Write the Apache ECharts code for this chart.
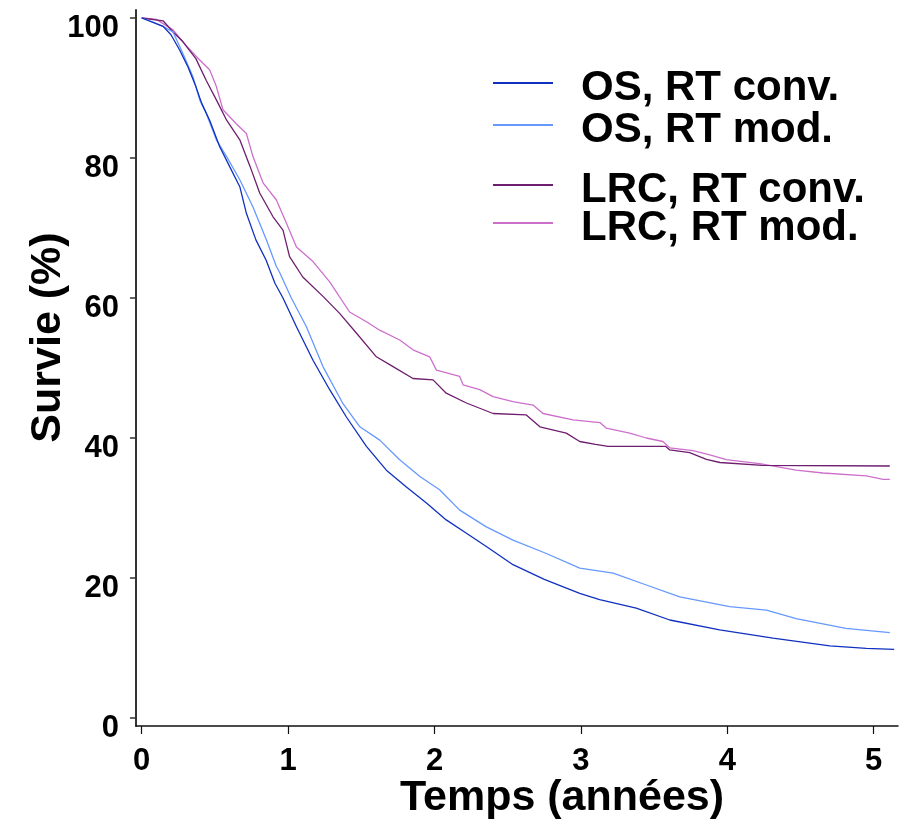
<!DOCTYPE html>
<html>
<head>
<meta charset="utf-8">
<script src="https://cdn.jsdelivr.net/npm/echarts@6/dist/echarts.min.js"></script>
<style>html,body{margin:0;padding:0;background:#fff}#c{width:903px;height:819px}</style>
</head>
<body>
<div id="c"></div>
<script>
// Time (years) and survival (%)
const osConvT = [0, 0.146, 0.2, 0.26, 0.316, 0.37, 0.41, 0.464, 0.533, 0.6, 0.67, 0.715, 0.78, 0.85, 0.91, 0.965, 1.057, 1.17, 1.284, 1.398, 1.535, 1.671, 1.808, 1.945, 2.08, 2.218, 2.354, 2.536, 2.75, 2.992, 3.128, 3.378, 3.607, 3.948, 4.312, 4.7, 4.95, 5.14];
const osConvS = [100, 98.8, 97.6, 95.4, 93, 90.2, 87.8, 85.4, 81.6, 78.8, 75.9, 72.1, 68.3, 65.4, 62.1, 60, 55.9, 51.1, 46.9, 43, 38.8, 35.4, 33, 30.7, 28.3, 26.4, 24.5, 21.9, 19.8, 17.8, 16.9, 15.7, 14, 12.6, 11.4, 10.3, 9.96, 9.8];

const osModT = [0, 0.055, 0.146, 0.214, 0.282, 0.35, 0.396, 0.44, 0.51, 0.58, 0.67, 0.76, 0.852, 0.92, 0.943, 1.022, 1.125, 1.238, 1.375, 1.49, 1.626, 1.762, 1.9, 2.035, 2.172, 2.354, 2.536, 2.764, 2.992, 3.22, 3.447, 3.675, 4.016, 4.267, 4.47, 4.81, 5.11];
const osModS = [100, 99.6, 98.8, 98, 94.9, 91.6, 88.3, 86.4, 82.6, 80.2, 76.9, 73, 68.3, 64.5, 63.6, 60, 55.9, 50.2, 44.9, 41.6, 39.7, 36.9, 34.5, 32.6, 29.7, 27.3, 25.4, 23.5, 21.4, 20.7, 19, 17.3, 15.9, 15.4, 14.2, 12.8, 12.2];

const lrcConvT = [0, 0.146, 0.214, 0.282, 0.37, 0.44, 0.51, 0.58, 0.67, 0.74, 0.806, 0.897, 0.965, 1.01, 1.1, 1.24, 1.352, 1.466, 1.603, 1.717, 1.853, 1.99, 2.08, 2.218, 2.4, 2.627, 2.72, 2.9, 2.992, 3.1, 3.186, 3.58, 3.607, 3.743, 3.857, 3.95, 4.24, 5.11];
const lrcConvS = [100, 99.6, 98, 96.6, 94.2, 91.1, 88.3, 85.4, 82.6, 78.8, 75, 71.6, 69.7, 65.9, 63, 60.2, 57.8, 55, 51.6, 50.2, 48.5, 48.3, 46.4, 45, 43.5, 43.3, 41.6, 40.7, 39.5, 39.1, 38.8, 38.8, 38.3, 37.9, 36.95, 36.5, 36.1, 36];

const lrcModT = [0, 0.1, 0.214, 0.305, 0.396, 0.464, 0.51, 0.555, 0.646, 0.715, 0.76, 0.83, 0.92, 0.988, 1.057, 1.17, 1.284, 1.42, 1.535, 1.626, 1.762, 1.853, 1.967, 2.013, 2.172, 2.195, 2.309, 2.4, 2.536, 2.673, 2.741, 2.946, 3.13, 3.174, 3.333, 3.447, 3.56, 3.607, 3.766, 3.88, 3.994, 4.232, 4.47, 4.654, 4.95, 5.064, 5.11];
const lrcModS = [100, 99.8, 98.3, 96, 94, 92.6, 90.2, 86.9, 84.9, 83.5, 80.2, 76.4, 74, 70.7, 67.3, 65.2, 62.3, 58, 56.6, 55.4, 54, 52.6, 51.6, 49.7, 48.8, 47.6, 46.9, 45.9, 45.2, 44.7, 43.5, 42.6, 42.2, 41.4, 40.7, 40, 39.5, 38.6, 38.2, 37.6, 36.9, 36.3, 35.4, 35, 34.6, 34.1, 34.1];

const seriesNames = ['OS, RT conv.', 'OS, RT mod.', 'LRC, RT conv.', 'LRC, RT mod.'];
const xTicks = [0, 1, 2, 3, 4, 5];
const yTicks = [0, 20, 40, 60, 80, 100];

const colors = ['#1030C0', '#6699FF', '#6E1E6E', '#CC70CC'];
const font = 'Liberation Sans, Arial, Helvetica, sans-serif';

function pairs(t, s) { return t.map((v, i) => [v, s[i]]); }
const datasets = [pairs(osConvT, osConvS), pairs(osModT, osModS), pairs(lrcConvT, lrcConvS), pairs(lrcModT, lrcModS)];

const chart = echarts.init(document.getElementById('c'));
const legendText = {
  fontFamily: font, fontWeight: 'bold', fontSize: 42, color: '#000',
  rich: {
    s: { width: 23, lineHeight: 52, fontSize: 42, fontFamily: font },
    t: { fontFamily: font, fontWeight: 'bold', fontSize: 42, lineHeight: 42, color: '#000', verticalAlign: 'bottom' }
  }
};
const legendFmt = name => '{s| }{t|' + name + '}';
chart.setOption({
  animation: false,
  backgroundColor: '#fff',
  grid: { left: 136, right: 5, top: 10, bottom: 93, containLabel: false, outerBoundsMode: 'none' },
  legend: [
    { data: seriesNames.slice(0, 2), orient: 'vertical', left: 492, top: 62, padding: 0, itemGap: -5, itemWidth: 60, itemHeight: 14, textStyle: legendText, formatter: legendFmt, itemStyle: { opacity: 0 } },
    { data: seriesNames.slice(2, 4), orient: 'vertical', left: 492, top: 164, padding: 0, itemGap: -9, itemWidth: 60, itemHeight: 14, textStyle: legendText, formatter: legendFmt, itemStyle: { opacity: 0 } }
  ],
  xAxis: {
    type: 'value', min: -0.039, max: 5.166,
    name: 'Temps (années)', nameLocation: 'middle', nameGap: 51, nameMoveOverlap: false,
    nameTextStyle: { fontFamily: font, fontWeight: 'bold', fontSize: 43, color: '#000', padding: [0, 0, 0, 90] },
    axisLine: { show: true, onZero: false, lineStyle: { color: '#111', width: 1.5 } },
    axisTick: { show: true, customValues: xTicks, length: 8, lineStyle: { color: '#111', width: 1.2 } },
    axisLabel: { customValues: xTicks, margin: 20, fontFamily: font, fontWeight: 'bold', fontSize: 31, color: '#000' },
    splitLine: { show: false }
  },
  yAxis: {
    type: 'value', min: -1.143, max: 101.143,
    name: 'Survie (%)', nameLocation: 'middle', nameGap: 66, nameMoveOverlap: false,
    nameTextStyle: { fontFamily: font, fontWeight: 'bold', fontSize: 43, color: '#000', padding: [0, 0, 0, 61] },
    axisLine: { show: true, onZero: false, lineStyle: { color: '#333', width: 2 } },
    axisTick: { show: true, customValues: yTicks, length: 6, lineStyle: { color: '#333', width: 1.5 } },
    axisLabel: { customValues: yTicks, margin: 17, fontFamily: font, fontWeight: 'bold', fontSize: 31, color: '#000', verticalAlign: 'top', lineHeight: 20 },
    splitLine: { show: false }
  },
  series: seriesNames.map((n, i) => ({
    name: n, type: 'line', data: datasets[i], showSymbol: false, symbol: 'none',
    color: colors[i],
    lineStyle: { color: colors[i], width: 1.3 },
    itemStyle: { color: colors[i] },
    z: 4 - i
  }))
});
</script>
</body>
</html>
